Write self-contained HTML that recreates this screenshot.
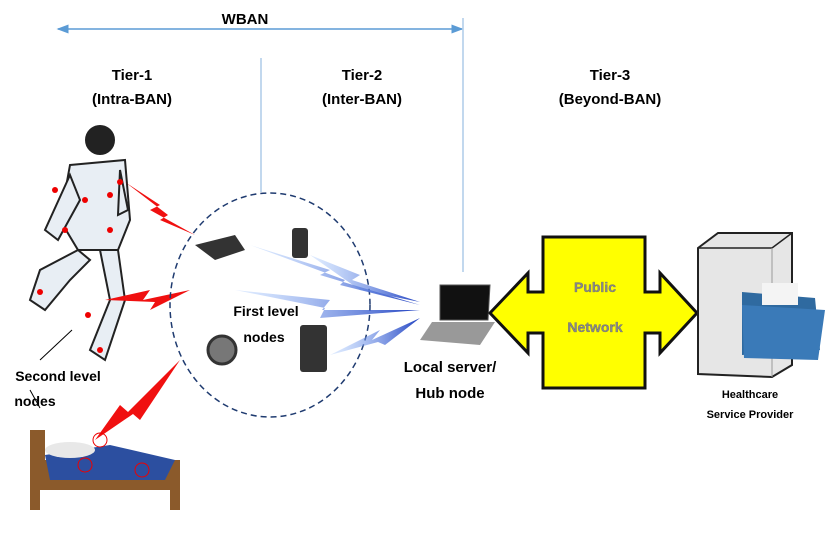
<!DOCTYPE html>
<html><head><meta charset="utf-8"><style>
body{margin:0;background:#fff;width:837px;height:535px;overflow:hidden;font-family:"Liberation Sans",sans-serif}
svg text{font-family:"Liberation Sans",sans-serif;font-weight:bold}
</style></head><body>
<svg width="837" height="535" viewBox="0 0 837 535" xmlns="http://www.w3.org/2000/svg">
<defs>
<marker id="ah" markerWidth="8" markerHeight="8" refX="7" refY="4" orient="auto-start-reverse"><path d="M0,1 L8,4 L0,7z" fill="#5b9bd5"/></marker>
<linearGradient id="bl" x1="0" x2="1"><stop offset="0" stop-color="#9cc3ff" stop-opacity="0.3"/><stop offset="1" stop-color="#2040c0"/></linearGradient>
</defs>
<line x1="58" y1="29" x2="462" y2="29" stroke="#5b9bd5" stroke-width="1.5" marker-start="url(#ah)" marker-end="url(#ah)"/>
<line x1="463" y1="18" x2="463" y2="272" stroke="#aecbe8" stroke-width="1.5"/>
<line x1="261" y1="58" x2="261" y2="192" stroke="#aecbe8" stroke-width="1.5"/>
<text x="245" y="24" font-size="15" text-anchor="middle">WBAN</text>
<g font-size="15" text-anchor="middle">
<text x="132" y="80">Tier-1</text><text x="132" y="104">(Intra-BAN)</text>
<text x="362" y="80">Tier-2</text><text x="362" y="104">(Inter-BAN)</text>
<text x="610" y="80">Tier-3</text><text x="610" y="104">(Beyond-BAN)</text>
</g>
<!-- person -->
<g fill="#e8eef4" stroke="#222" stroke-width="2">
<circle cx="100" cy="140" r="14" fill="#222"/>
<path d="M70,165 L125,160 L130,220 L118,250 L78,250 L60,220z"/>
<path d="M70,175 L45,230 L58,240 L80,200z"/>
<path d="M120,170 L128,210 L118,215z"/>
<path d="M78,250 L40,270 L30,300 L45,310 L70,280 L90,260z"/>
<path d="M100,250 L110,300 L90,350 L105,360 L125,300 L118,250z"/>
</g>
<g fill="#e00"><circle cx="85" cy="200" r="3"/><circle cx="110" cy="195" r="3"/><circle cx="55" cy="190" r="3"/><circle cx="65" cy="230" r="3"/><circle cx="110" cy="230" r="3"/><circle cx="40" cy="292" r="3"/><circle cx="88" cy="315" r="3"/><circle cx="100" cy="350" r="3"/><circle cx="120" cy="182" r="3"/></g>
<!-- lightning -->
<g fill="#f01010">
<path d="M125,182 L160,205 L150,210 L195,235 L160,220 L168,215 Z"/>
<path d="M105,300 L150,290 L143,300 L190,290 L150,310 L155,302 Z"/>
<path d="M95,440 L120,405 L128,412 L180,360 L140,420 L133,414 Z"/>
</g>
<!-- bed -->
<g>
<path d="M30,430 L30,510 L40,510 L40,490 L170,490 L170,510 L180,510 L180,460 L45,460 L45,430z" fill="#8b5a2b"/>
<path d="M45,455 L110,445 L175,460 L165,480 L50,480z" fill="#2c4fa0"/>
<ellipse cx="70" cy="450" rx="25" ry="8" fill="#e8e8e8"/>
<circle cx="100" cy="440" r="7" fill="none" stroke="#e00"/><circle cx="85" cy="465" r="7" fill="none" stroke="#e00"/><circle cx="142" cy="470" r="7" fill="none" stroke="#e00"/>
</g>
<line x1="30" y1="390" x2="40" y2="408" stroke="#000"/>
<line x1="40" y1="360" x2="72" y2="330" stroke="#000"/>
<text x="58" y="381" font-size="14" text-anchor="middle">Second level</text>
<text x="35" y="406" font-size="14" text-anchor="middle">nodes</text>
<!-- circle -->
<ellipse cx="270" cy="305" rx="100" ry="112" fill="none" stroke="#1f3b70" stroke-dasharray="6,4" stroke-width="1.5"/>
<path d="M195,245 L235,235 L245,250 L215,260z" fill="#333"/>
<rect x="292" y="228" width="16" height="30" rx="3" fill="#333"/>
<circle cx="222" cy="350" r="14" fill="#777" stroke="#333" stroke-width="3"/>
<rect x="300" y="325" width="27" height="47" rx="3" fill="#333"/>
<text x="266" y="316" font-size="14" text-anchor="middle">First level</text>
<text x="264" y="342" font-size="14" text-anchor="middle">nodes</text>
<!-- blue bolts -->
<g fill="url(#bl)">
<path d="M250,245 L330,270 L320,275 L420,305 L340,285 L345,280 Z"/>
<path d="M310,255 L360,275 L352,280 L420,302 L360,290 Z"/>
<path d="M235,290 L330,300 L322,310 L420,310 L320,318 L325,308 Z"/>
<path d="M330,355 L380,330 L372,340 L420,318 L385,345 L378,342 Z"/>
</g>
<!-- laptop -->
<path d="M440,285 L490,285 L488,320 L440,320z" fill="#111" stroke="#555"/>
<path d="M432,322 L495,322 L480,345 L420,340z" fill="#999"/>
<text x="450" y="372" font-size="15" text-anchor="middle">Local server/</text>
<text x="450" y="398" font-size="15" text-anchor="middle">Hub node</text>
<!-- yellow arrow -->
<path d="M490,313 L528,273 L528,292 L543,292 L543,237 L645,237 L645,292 L660,292 L660,273 L697,313 L660,353 L660,333 L645,333 L645,388 L543,388 L543,333 L528,333 L528,353 Z" fill="#ffff00" stroke="#111" stroke-width="3"/>
<text x="595" y="292" font-size="14" text-anchor="middle" fill="#888" stroke="#666" stroke-width="0.3">Public</text>
<text x="595" y="332" font-size="14" text-anchor="middle" fill="#888" stroke="#666" stroke-width="0.3">Network</text>
<!-- server -->
<path d="M698,248 L718,233 L792,233 L792,365 L772,377 L698,374z" fill="#e6e6e6" stroke="#222" stroke-width="2"/>
<path d="M698,248 L772,248 L792,233" fill="none" stroke="#222" stroke-width="1.5"/>
<line x1="772" y1="248" x2="772" y2="377" stroke="#999"/>
<path d="M742,292 L815,298 L820,350 L742,355z" fill="#2f6aa0"/>
<rect x="762" y="283" width="36" height="22" fill="#f4f4f4"/>
<path d="M742,305 L825,310 L818,360 L744,358z" fill="#3a7ab8"/>
<text x="750" y="398" font-size="11" text-anchor="middle">Healthcare</text>
<text x="750" y="418" font-size="11" text-anchor="middle">Service Provider</text>
</svg>
</body></html>
